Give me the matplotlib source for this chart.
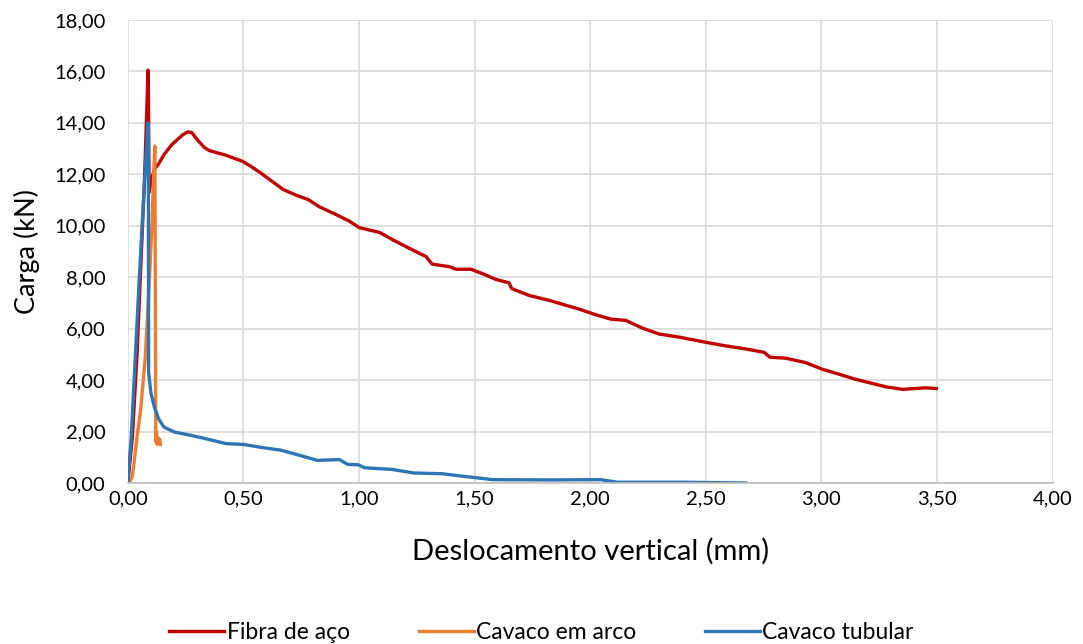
import numpy as np
import matplotlib.pyplot as plt
from matplotlib.ticker import FuncFormatter

plt.rcParams["font.family"] = ["Lato", "DejaVu Sans"]

# Fibra de aço
fibra_x = [0, 0.02, 0.04, 0.057, 0.073, 0.084, 0.087, 0.089, 0.092, 0.1, 0.115, 0.133,
           0.157, 0.19, 0.238, 0.26, 0.277, 0.3, 0.33, 0.353, 0.425, 0.497, 0.529, 0.572,
           0.622, 0.672, 0.73, 0.78, 0.83, 0.902, 0.96, 1.0, 1.089, 1.147, 1.218, 1.29,
           1.316, 1.39, 1.42, 1.484, 1.534, 1.59, 1.649, 1.66, 1.736, 1.822, 1.952,
           2.024, 2.089, 2.154, 2.226, 2.298, 2.385, 2.5, 2.586, 2.673, 2.752, 2.777,
           2.846, 2.932, 3.004, 3.076, 3.148, 3.22, 3.278, 3.35, 3.451, 3.497]
fibra_y = [0, 1.8, 5.0, 8.6, 12.0, 15.0, 16.05, 15.5, 11.3, 11.7, 12.2, 12.4,
           12.77, 13.15, 13.54, 13.65, 13.62, 13.35, 13.05, 12.92, 12.74, 12.5, 12.33, 12.07,
           11.74, 11.41, 11.18, 11.02, 10.73, 10.43, 10.17, 9.93, 9.74, 9.45, 9.12, 8.8,
           8.51, 8.41, 8.31, 8.31, 8.14, 7.92, 7.78, 7.56, 7.29, 7.1, 6.76,
           6.54, 6.37, 6.32, 6.02, 5.79, 5.67, 5.47, 5.33, 5.21, 5.08, 4.89,
           4.85, 4.68, 4.42, 4.23, 4.03, 3.87, 3.74, 3.64, 3.70, 3.67]

# Cavaco em arco
arco_x = [0, 0.01, 0.02, 0.03, 0.04, 0.055, 0.075, 0.09, 0.104, 0.112, 0.117, 0.119,
          0.121, 0.124, 0.127, 0.131, 0.135, 0.138, 0.141]
arco_y = [0, 0.05, 0.3, 1.0, 1.8, 2.8, 4.8, 7.3, 9.9, 12.0, 13.1, 8.0,
          1.6, 2.0, 1.5, 1.75, 1.65, 1.7, 1.5]

# Cavaco tubular
tubular_x = [0, 0.015, 0.033, 0.05, 0.07, 0.087, 0.089, 0.09, 0.1, 0.115, 0.133,
             0.157, 0.202, 0.274, 0.31, 0.425, 0.5, 0.587, 0.66, 0.733, 0.82, 0.915,
             0.952, 0.996, 1.025, 1.141, 1.236, 1.36, 1.462, 1.579, 1.827, 2.045,
             2.118, 2.4, 2.672]
tubular_y = [0, 1.8, 5.0, 8.0, 11.3, 14.0, 13.9, 4.3, 3.5, 2.95, 2.5,
             2.17, 1.98, 1.85, 1.78, 1.53, 1.5, 1.37, 1.28, 1.1, 0.88, 0.91,
             0.72, 0.71, 0.59, 0.53, 0.39, 0.36, 0.25, 0.13, 0.12, 0.13,
             0.03, 0.03, 0.0]

fig, ax = plt.subplots(figsize=(10.83, 6.44), dpi=100)
fig.subplots_adjust(left=0.118, right=0.972, top=0.969, bottom=0.25)

ax.plot(fibra_x, fibra_y, color="#C00000", lw=2.4, label="Fibra de aço")
ax.plot(arco_x, arco_y, color="#ED7D31", lw=2.4, label="Cavaco em arco")
ax.plot(tubular_x, tubular_y, color="#2E75B6", lw=2.4, label="Cavaco tubular")

ax.set_xlim(0, 4)
ax.set_ylim(0, 18)
ax.set_xticks(np.arange(0, 4.01, 0.5))
ax.set_yticks(np.arange(0, 18.01, 2))
fmt = FuncFormatter(lambda v, p: f"{v:.2f}".replace(".", ","))
ax.xaxis.set_major_formatter(fmt)
ax.yaxis.set_major_formatter(fmt)
ax.tick_params(length=0, labelsize=14.5, colors="#000000")
ax.tick_params(axis="x", pad=5)
ax.tick_params(axis="y", pad=16)
ax.grid(True, color="#d9d9d9", lw=1.2)
ax.set_axisbelow(True)
for s in ["top", "right", "left"]:
    ax.spines[s].set_visible(False)
ax.spines["bottom"].set_color("#bfbfbf")
ax.spines["bottom"].set_linewidth(1.2)

ax.set_xlabel("Deslocamento vertical (mm)", fontsize=21, labelpad=22)
ax.set_ylabel("Carga (kN)", fontsize=19.5, labelpad=10)

fig.legend(loc="lower center", bbox_to_anchor=(0.5, -0.03), ncol=3, frameon=False,
           fontsize=16.5, handlelength=2.4, handletextpad=0.1, columnspacing=3.0)

plt.savefig("out.png")
